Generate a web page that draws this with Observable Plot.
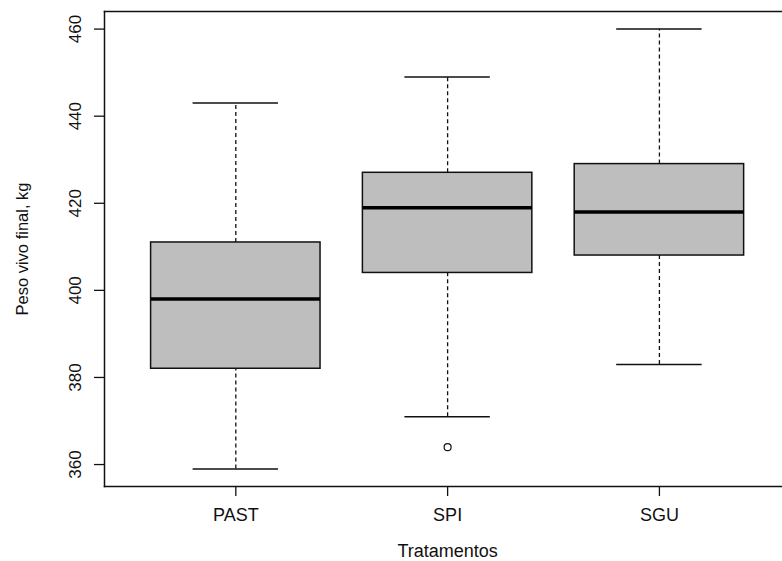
<!DOCTYPE html>
<html><head><meta charset="utf-8">
<script src="https://cdn.jsdelivr.net/npm/d3@7"></script>
<script src="https://cdn.jsdelivr.net/npm/@observablehq/plot@0.6"></script>
<style>
html,body{margin:0;padding:0;background:#fff;overflow:hidden;}
</style></head><body><div id="chart"></div>
<script>
const categories = ["PAST", "SPI", "SGU"];
const lowerWhisker = [359, 371, 383];
const lowerQuartile = [382, 404, 408];
const medians = [398, 419, 418];
const upperQuartile = [411, 427, 429];
const upperWhisker = [443, 449, 460];
const outlierCategories = ["SPI"];
const outlierValues = [364];
const yTicks = [360, 380, 400, 420, 440, 460];
const xTitle = "Tratamentos";
const yTitle = "Peso vivo final, kg";

const boxes = categories.map((c, i) => ({cat: c, lo: lowerWhisker[i], q1: lowerQuartile[i], med: medians[i], q3: upperQuartile[i], hi: upperWhisker[i]}));
const outliers = outlierCategories.map((c, i) => ({cat: c, v: outlierValues[i]}));

const allValues = [...lowerWhisker, ...upperWhisker, ...outlierValues];
const [mn, mx] = d3.extent(allValues);
const pad = (mx - mn) * 0.04;

const W = 782, H = 561;
const mLeft = 104, mTop = 11, mBottom = 75;
const step = 211.8;
const xRange = [mLeft, mLeft + step * (categories.length - 0.2 + 2 * 0.22)];
const ink = "#111";

const chart = Plot.plot({
  width: W, height: H,
  marginLeft: mLeft, marginRight: 0, marginTop: mTop, marginBottom: mBottom,
  style: {fontFamily: "'Liberation Sans', Arial, sans-serif", fontSize: "17px", color: ink, background: "white", maxWidth: "none"},
  x: {type: "band", domain: categories, range: xRange, paddingInner: 0.2, paddingOuter: 0.22, align: 0.5, round: false, label: null},
  y: {domain: [mn - pad, mx + pad], label: null},
  marks: [
    Plot.ruleX(boxes, {x: "cat", y1: "lo", y2: "q1", stroke: ink, strokeWidth: 1.3, strokeDasharray: "4,3"}),
    Plot.ruleX(boxes, {x: "cat", y1: "q3", y2: "hi", stroke: ink, strokeWidth: 1.3, strokeDasharray: "4,3"}),
    Plot.tickY(boxes, {x: "cat", y: "lo", insetLeft: 42, insetRight: 42, stroke: ink, strokeWidth: 1.5}),
    Plot.tickY(boxes, {x: "cat", y: "hi", insetLeft: 42, insetRight: 42, stroke: ink, strokeWidth: 1.5}),
    Plot.barY(boxes, {x: "cat", y1: "q1", y2: "q3", fill: "#bebebe", stroke: ink, strokeWidth: 1.5}),
    Plot.tickY(boxes, {x: "cat", y: "med", stroke: "#000", strokeWidth: 3.5}),
    Plot.dot(outliers, {x: "cat", y: "v", r: 3.5, stroke: ink, fill: "none", strokeWidth: 1.2}),
    Plot.frame({anchor: "left", stroke: ink, strokeWidth: 1.5}),
    Plot.frame({anchor: "top", stroke: ink, strokeWidth: 1.5}),
    Plot.frame({anchor: "bottom", stroke: ink, strokeWidth: 1.5}),
    Plot.axisY({ticks: yTicks, tickSize: 10, tickPadding: 14, tickRotate: -90, fontSize: 17, label: null, stroke: ink, strokeWidth: 1.3}),
    Plot.axisX({tickSize: 10, tickPadding: 12, fontSize: 18, label: null, stroke: ink, strokeWidth: 1.3}),
    Plot.text([yTitle], {frameAnchor: "left", textAnchor: "middle", dx: -88, rotate: -90, lineAnchor: "top", fontSize: 16.5, fill: ink}),
    Plot.text([xTitle], {frameAnchor: "bottom", textAnchor: "middle", dx: (xRange[1] - W) / 2, dy: 58, lineAnchor: "top", fontSize: 18, fill: ink})
  ]
});
document.getElementById("chart").appendChild(chart);
</script>
</body></html>
